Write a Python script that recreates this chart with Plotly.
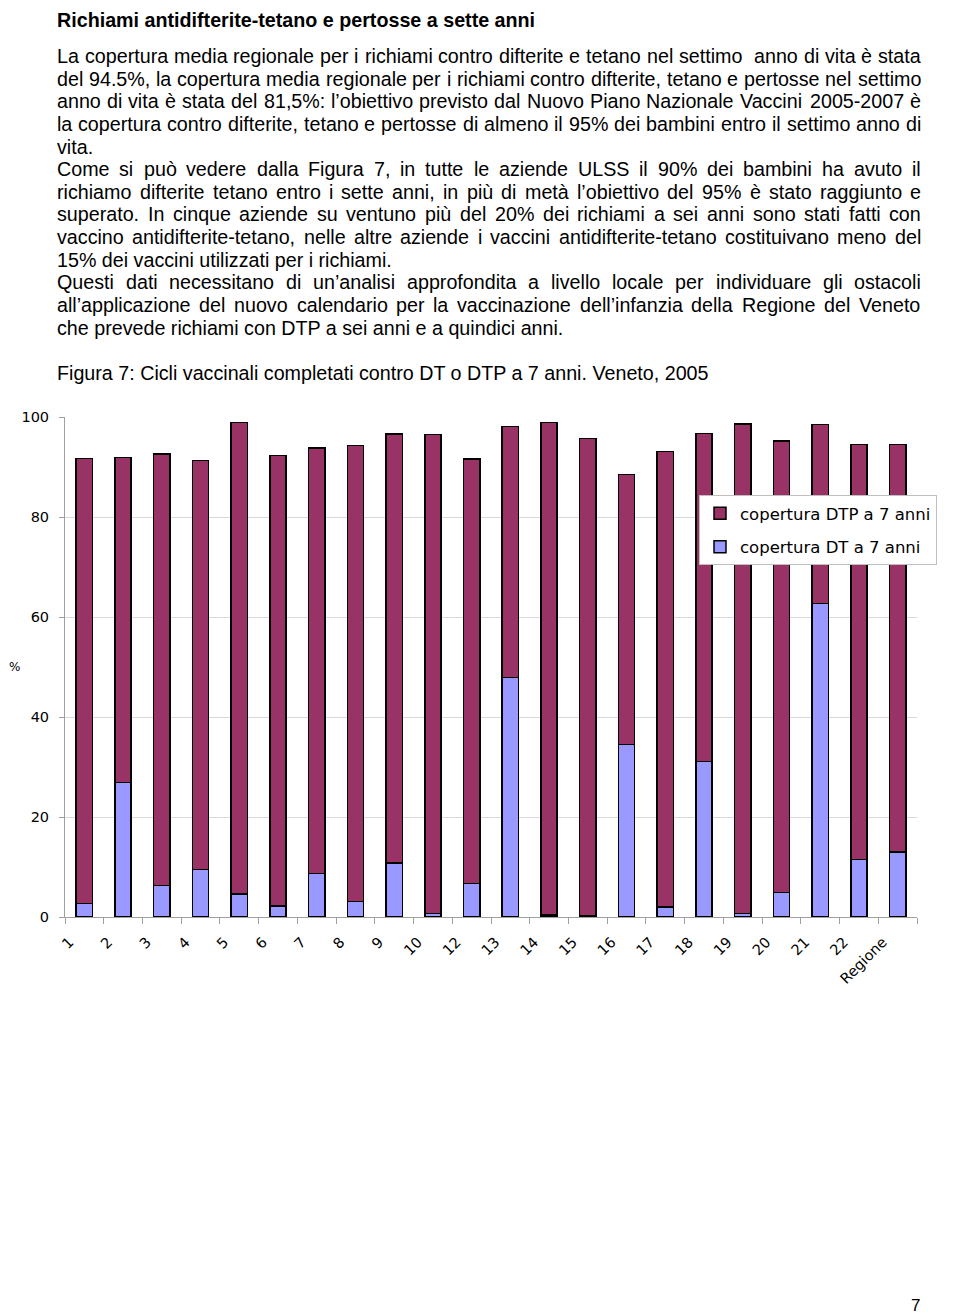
import plotly.graph_objects as go

# ---------------- data ----------------
categories = ["1", "2", "3", "4", "5", "6", "7", "8", "9", "10", "12", "13", "14",
              "15", "16", "17", "18", "19", "20", "21", "22", "Regione"]
dt_values = [2.7, 26.9, 6.3, 9.5, 4.6, 2.2, 8.7, 3.1, 10.8, 0.7, 6.7, 47.9, 0.4,
             0.2, 34.5, 2.0, 31.1, 0.7, 4.9, 62.7, 11.5, 13.0]
dtp_values = [89.0, 65.0, 86.3, 81.8, 94.3, 90.1, 85.1, 91.2, 85.8, 95.8, 84.9, 50.2, 98.5,
              95.5, 54.0, 91.1, 65.6, 97.9, 90.3, 35.8, 83.0, 81.5]
y_ticks = [0, 20, 40, 60, 80, 100]

title_text = "Richiami antidifterite-tetano e pertosse a sette anni"
# (text, justified?)
body_lines = [
    ("La copertura media regionale per i richiami contro difterite e tetano nel settimo  anno di vita è stata", True),
    ("del 94.5%, la copertura media regionale per i richiami contro difterite, tetano e pertosse nel settimo", True),
    ("anno di vita è stata del 81,5%: l’obiettivo previsto dal Nuovo Piano Nazionale Vaccini 2005-2007 è", True),
    ("la copertura contro difterite, tetano e pertosse di almeno il 95% dei bambini entro il settimo anno di", True),
    ("vita.", False),
    ("Come si può vedere dalla Figura 7, in tutte le aziende ULSS il 90% dei bambini ha avuto il", True),
    ("richiamo difterite tetano entro i sette anni, in più di metà l’obiettivo del 95% è stato raggiunto e", True),
    ("superato. In cinque aziende su ventuno più del 20% dei richiami a sei anni sono stati fatti con", True),
    ("vaccino antidifterite-tetano, nelle altre aziende i vaccini antidifterite-tetano costituivano meno del", True),
    ("15% dei vaccini utilizzati per i richiami.", False),
    ("Questi dati necessitano di un’analisi approfondita a livello locale per individuare gli ostacoli", True),
    ("all’applicazione del nuovo calendario per la vaccinazione dell’infanzia della Regione del Veneto", True),
    ("che prevede richiami con DTP a sei anni e a quindici anni.", False),
]
caption_text = "Figura 7: Cicli vaccinali completati contro DT o DTP a 7 anni. Veneto, 2005"
page_number = "7"

# ---------------- layout helpers (page pixel -> paper) ----------------
OFF = 8  # page body margin
W, H = 960 - OFF, 1315 - OFF
PL, PR, PT, PB = 65, 917, 417, 917  # plot area in page pixels


def px_x(px):
    return (px - PL) / (PR - PL)


def px_y(py):
    return (PB - py) / (PB - PT)


TEXT_FONT = "Liberation Sans, Arial, sans-serif"
CHART_FONT = "DejaVu Sans, Arial, sans-serif"
TEXT_SIZE = 19.7

# Arial / Liberation Sans advance widths (1/1000 em) for text justification
_W = {" ": 278, "%": 889, ",": 278, "-": 333, ".": 278, ":": 278, "’": 222,
      "è": 556, "à": 556, "ò": 556, "ù": 556}
_W.update({d: 556 for d in "0123456789"})
_W.update(dict(zip("ABCDEFGHIJKLMNOPQRSTUVWXYZ",
                   [667, 667, 722, 722, 667, 611, 778, 722, 278, 500, 667, 556, 833,
                    722, 778, 667, 778, 722, 667, 611, 722, 667, 944, 667, 667, 611])))
_W.update(dict(zip("abcdefghijklmnopqrstuvwxyz",
                   [556, 556, 500, 556, 556, 278, 556, 556, 222, 222, 500, 222, 833,
                    556, 556, 556, 556, 333, 500, 278, 556, 500, 722, 500, 500, 500])))


def text_width(s, size):
    return sum(_W.get(c, 556) for c in s) * size / 1000.0


fig = go.Figure()
fig.add_trace(go.Bar(
    x=categories, y=dt_values, name="copertura DT a 7 anni",
    legendrank=2, legendgroup="dt",
    marker=dict(color="#9999FF", line=dict(color="#000000", width=1.5)),
))
fig.add_trace(go.Bar(
    x=categories, y=dtp_values, name="copertura DTP a 7 anni",
    legendrank=1, legendgroup="dtp",
    marker=dict(color="#993366", line=dict(color="#000000", width=1.5)),
))

annotations = []


def add_text(txt, x, y, size, family=TEXT_FONT, xanchor="left", yanchor="middle"):
    annotations.append(dict(
        text=txt, x=px_x(x), y=px_y(y), xref="paper", yref="paper",
        xanchor=xanchor, yanchor=yanchor, showarrow=False, borderpad=0,
        font=dict(family=family, size=size, color="#000000"),
    ))


TEXT_LEFT, TEXT_RIGHT = 56, 920

add_text("<b>" + title_text + "</b>", TEXT_LEFT, 8, TEXT_SIZE, yanchor="top")
line_y = [56, 79, 101, 124, 147, 169, 192, 214, 237, 260, 282, 305, 328]
for (txt, justify), yy in zip(body_lines, line_y):
    if not justify:
        add_text(txt, TEXT_LEFT, yy, TEXT_SIZE)
        continue
    words = txt.split(" ")
    words_w = sum(text_width(w, TEXT_SIZE) for w in words)
    gap = (TEXT_RIGHT - TEXT_LEFT - words_w) / (len(words) - 1)
    xpos = TEXT_LEFT
    for w in words:
        if w:
            add_text(w, xpos, yy, TEXT_SIZE)
        xpos += text_width(w, TEXT_SIZE) + gap
add_text(caption_text, TEXT_LEFT, 373, TEXT_SIZE)
add_text("%", 8, 667, 12, family=CHART_FONT)
add_text(page_number, 915, 1305, 17, xanchor="center")

fig.update_layout(
    width=W, height=H,
    margin=dict(l=PL - OFF, r=W - (PR - OFF), t=PT - OFF, b=H - (PB - OFF), pad=0,
                autoexpand=False),
    paper_bgcolor="white", plot_bgcolor="white",
    barmode="stack", bargap=0.58,
    showlegend=True,
    legend=dict(
        x=px_x(699), y=px_y(495), xanchor="left", yanchor="top",
        bgcolor="white", bordercolor="#bfbfbf", borderwidth=1,
        traceorder="grouped", tracegroupgap=9,
        font=dict(family=CHART_FONT, size=16.5, color="#000000"),
    ),
    annotations=annotations,
    xaxis=dict(
        type="category", categoryorder="array", categoryarray=categories,
        tickson="boundaries", ticks="outside", ticklen=6, tickcolor="#a0a0a0",
        showline=True, linecolor="#a0a0a0", linewidth=1,
        showgrid=False, tickangle=-45,
        ticklabelshift=-15, ticklabelstandoff=10,
        tickfont=dict(family=CHART_FONT, size=14.5, color="#000000"),
    ),
    yaxis=dict(
        range=[0, 100], tickvals=y_ticks, ticks="outside", ticklen=5,
        tickcolor="#a0a0a0", showline=True, linecolor="#a0a0a0", linewidth=1,
        showgrid=True, gridcolor="#d9d9d9", gridwidth=1, zeroline=False,
        ticklabelstandoff=7,
        tickfont=dict(family=CHART_FONT, size=14.5, color="#000000"),
    ),
)

fig.write_html("out.html")
